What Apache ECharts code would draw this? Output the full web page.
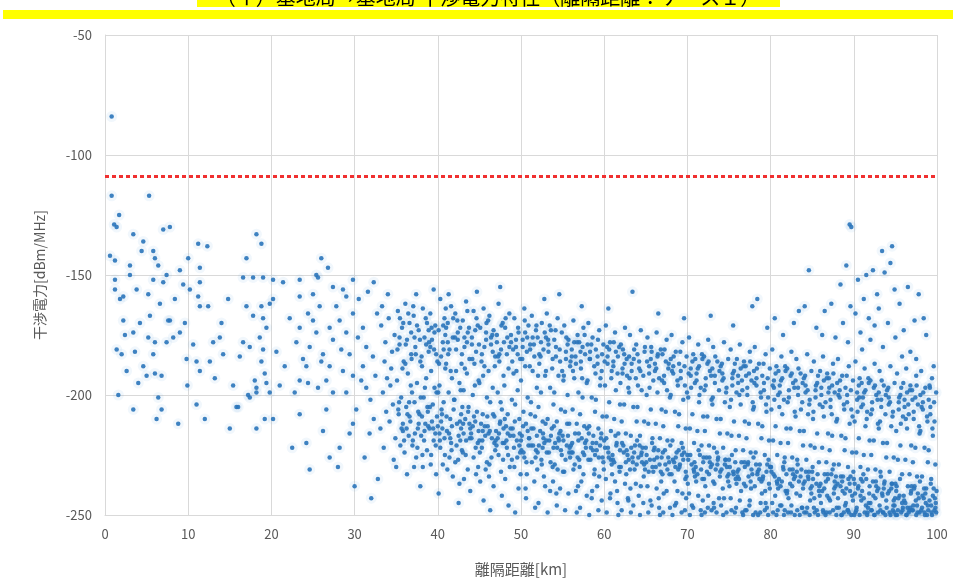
<!DOCTYPE html>
<html><head><meta charset="utf-8">
<script src="https://cdn.jsdelivr.net/npm/echarts@6/dist/echarts.min.js"></script>
<style>html,body{margin:0;padding:0;background:#fff}#c{width:953px;height:587px}</style>
</head><body><div id="c"></div>
<script>
const titleText = '（イ）基地局→基地局 干渉電力特性（離隔距離：ケース１）';
const xName = '離隔距離[km]';
const yName = '干渉電力[dBm/MHz]';
const xTicks = [0,10,20,30,40,50,60,70,80,90,100];
const yTicks = [-250,-200,-150,-100,-50];
const thresholdDbm = -109;

// sparse region, 0–33 km  [distance km, power dBm/MHz]
const nearPoints = [
[0.8,-84],[0.8,-117],[5.3,-117],[1.7,-125],[1.1,-129],[1.4,-130],[3.4,-133],[7.0,-131],[7.8,-130],[4.6,-136],[4.4,-140],[5.8,-140],[6.0,-143],[0.6,-142],[1.2,-144],[3.0,-146],[6.4,-146],[10.0,-143],[11.2,-137],[18.2,-133],[18.8,-137],[17.0,-143],[26.0,-143],[26.8,-147],[25.4,-150],[9.0,-148],[11.4,-147],[3.0,-150],[5.8,-152],[7.4,-150],[7.0,-153],[1.2,-152],[1.2,-156],[2.2,-159],[3.8,-156],[5.2,-158],[6.6,-162],[9.4,-154],[10.2,-156],[11.4,-153],[11.2,-159],[12.4,-163],[11.4,-163],
[14.8,-160],[16.6,-151],[17.8,-151],[19.0,-151],[20.2,-152],[21.4,-153],[23.4,-152],[25.6,-151],[27.4,-155],[28.6,-156],[29.8,-152],[32.3,-153],[17.0,-163],[17.8,-167],[18.8,-163],[19.8,-162],[20.2,-160],[19.0,-168],[19.4,-172],[18.6,-176],[19.0,-181],[18.8,-186],[19.2,-191],[19.4,-195],[18.2,-197],[18.2,-199],[19.8,-199],[19.2,-210],[18.2,-214],[20.2,-210],[17.4,-180],[16.6,-178],[16.2,-184],[15.4,-196],[16.0,-205],[17.2,-200],[13.8,-176],[13.0,-178],[14.2,-183],[12.6,-186],[11.4,-190],[11.0,-186],[10.6,-179],[9.8,-185],[9.6,-170],[9.0,-174],[8.2,-176],[7.6,-169],[7.4,-178],[6.0,-178],[5.8,-183],[5.2,-176],[4.6,-188],[5.0,-192],[6.0,-191],[6.8,-192],[6.4,-201],[6.8,-206],[6.2,-210],[3.4,-206],[8.8,-212],[11.0,-204],[4.2,-170],[3.4,-174],[2.4,-175],[1.4,-181],[2.0,-183],[3.6,-182],[2.2,-169],[1.8,-160],[5.4,-167],[7.8,-169],
[15.8,-205],[17.4,-201],[18.0,-194],[21.6,-188],[22.8,-199],[23.4,-194],[23.8,-185],[23.0,-178],[23.4,-172],[24.4,-166],[23.4,-159],[25.0,-158],[25.8,-163],[25.0,-169],[25.4,-174],[24.6,-180],[24.2,-188],[24.4,-195],[23.4,-208],[24.2,-220],[24.6,-231],[27.0,-226],[28.0,-230],[28.2,-222],[29.4,-216],[30.0,-238],[26.6,-206],[27.4,-199],[26.6,-194],[27.0,-188],[26.2,-183],[27.4,-177],[27.0,-172],[28.2,-169],[27.8,-163],[29.0,-159],[29.8,-166],[29.0,-174],[29.4,-183],[28.6,-190],[29.8,-192],[29.0,-199],[30.2,-206],[29.8,-212],[31.0,-172],[31.4,-180],[31.0,-188],[31.4,-197],[31.9,-202],[32.3,-210],[32.8,-235],[32.7,-166],[30.5,-160],[31.6,-157],[30.4,-176],[30.8,-194],[31.8,-216],[32.2,-184],[32.5,-192],[28.4,-181],[26.0,-186],[25.6,-197],[22.2,-168],[21.0,-196],[20.6,-182],[12.3,-138],[14.0,-170],[8.4,-160],[2.6,-190],[1.6,-200],[4.0,-195],[9.9,-196],[13.2,-193],[12.0,-210],[15.0,-214],[22.5,-222],[26.2,-215],[31.2,-226],[32.0,-243]
];

// dense region, 33–67 km
const midPoints = [
[33.2,-171],[33.6,-186],[33.4,-199],[33.8,-207],[33.1,-214],[33.7,-178],[33.5,-222],[33.9,-193],[33.3,-163],
[34.1,-168],[34.5,-182],[34.8,-175],[34.3,-196],[34.6,-204],[34.2,-211],[34.9,-218],[34.4,-189],[34.7,-227],[34.0,-158],
[35.2,-165],[35.7,-172],[35.4,-179],[35.9,-186],[35.1,-194],[35.6,-201],[35.3,-208],[35.8,-215],[35.5,-221],[35.0,-230],[35.4,-176],[35.8,-212],
[36.1,-162],[36.6,-170],[36.3,-177],[36.8,-183],[36.4,-191],[36.9,-199],[36.2,-205],[36.7,-211],[36.5,-217],[36.0,-224],[36.3,-233],[36.8,-174],[36.6,-209],[36.1,-187],
[37.4,-158],[37.1,-167],[37.7,-173],[37.3,-180],[37.9,-186],[37.5,-195],[37.2,-203],[37.8,-208],[37.6,-214],[37.0,-219],[37.4,-226],[37.9,-238],[37.2,-176],[37.7,-212],[37.5,-171],
[38.2,-164],[38.7,-170],[38.4,-176],[38.9,-182],[38.1,-188],[38.6,-193],[38.3,-201],[38.8,-207],[38.5,-212],[38.0,-217],[38.7,-223],[38.2,-230],[38.6,-179],[38.4,-215],[38.9,-173],[38.1,-209],
[39.5,-156],[39.1,-166],[39.7,-171],[39.3,-177],[39.8,-183],[39.2,-190],[39.6,-197],[39.4,-204],[39.9,-209],[39.0,-214],[39.5,-219],[39.2,-225],[39.8,-233],[39.6,-174],[39.3,-211],[39.1,-180],[39.7,-216],
[40.3,-160],[40.8,-168],[40.1,-173],[40.6,-178],[40.4,-184],[40.9,-189],[40.2,-196],[40.7,-203],[40.5,-208],[40.0,-213],[40.8,-218],[40.3,-222],[40.6,-229],[40.1,-241],[40.9,-175],[40.4,-211],[40.7,-181],[40.2,-216],
[41.6,-163],[41.2,-170],[41.8,-176],[41.4,-181],[41.0,-187],[41.7,-193],[41.3,-199],[41.9,-206],[41.5,-210],[41.1,-215],[41.6,-220],[41.4,-226],[41.8,-234],[41.2,-178],[41.7,-213],[41.0,-172],[41.5,-218],[41.3,-158],
[42.1,-166],[42.7,-172],[42.4,-177],[42.9,-183],[42.2,-190],[42.6,-195],[42.0,-202],[42.8,-208],[42.3,-212],[42.5,-217],[42.9,-223],[42.1,-228],[42.6,-237],[42.4,-174],[42.8,-214],[42.2,-181],[42.7,-219],[42.5,-245],
[43.4,-161],[43.0,-169],[43.6,-174],[43.2,-180],[43.8,-185],[43.5,-191],[43.1,-198],[43.7,-205],[43.3,-210],[43.9,-214],[43.4,-219],[43.0,-224],[43.6,-231],[43.2,-176],[43.8,-212],[43.5,-178],[43.1,-216],[43.9,-240],
[44.3,-165],[44.8,-171],[44.1,-176],[44.6,-182],[44.4,-187],[44.9,-194],[44.2,-200],[44.7,-207],[44.5,-211],[44.0,-216],[44.8,-220],[44.3,-226],[44.6,-233],[44.1,-179],[44.9,-215],[44.5,-173],[44.2,-213],[44.7,-157],
[45.5,-164],[45.1,-172],[45.8,-177],[45.3,-183],[45.6,-188],[45.0,-195],[45.9,-201],[45.4,-208],[45.2,-212],[45.7,-217],[45.3,-222],[45.9,-228],[45.1,-236],[45.6,-180],[45.4,-215],[45.8,-174],[45.0,-219],[45.5,-244],
[46.2,-167],[46.7,-173],[46.4,-179],[46.9,-184],[46.1,-190],[46.6,-197],[46.3,-203],[46.8,-209],[46.0,-213],[46.5,-218],[46.9,-223],[46.2,-229],[46.7,-238],[46.4,-176],[46.1,-216],[46.6,-182],[46.8,-220],[46.3,-248],
[47.3,-162],[47.8,-170],[47.1,-175],[47.6,-181],[47.4,-186],[47.9,-192],[47.2,-199],[47.7,-206],[47.5,-211],[47.0,-215],[47.8,-220],[47.3,-225],[47.6,-232],[47.1,-178],[47.9,-214],[47.4,-183],[47.2,-218],[47.7,-242],[47.5,-155],
[48.6,-166],[48.1,-172],[48.8,-178],[48.3,-183],[48.5,-189],[48.0,-196],[48.9,-202],[48.4,-208],[48.2,-213],[48.7,-217],[48.3,-222],[48.9,-227],[48.1,-235],[48.6,-180],[48.4,-216],[48.8,-175],[48.0,-220],[48.5,-246],
[49.2,-168],[49.7,-174],[49.4,-180],[49.9,-185],[49.1,-191],[49.6,-198],[49.3,-204],[49.8,-210],[49.0,-214],[49.5,-219],[49.9,-224],[49.2,-230],[49.7,-239],[49.4,-177],[49.1,-217],[49.6,-183],[49.8,-221],[49.3,-249],
[50.4,-164],[50.9,-171],[50.2,-177],[50.7,-182],[50.5,-188],[50.0,-194],[50.8,-201],[50.3,-207],[50.6,-212],[50.1,-217],[50.9,-221],[50.4,-226],[50.7,-233],[50.2,-180],[50.8,-215],[50.5,-174],[50.0,-219],[50.6,-243],[50.3,-224],
[51.3,-167],[51.8,-173],[51.1,-179],[51.6,-184],[51.4,-190],[51.9,-197],[51.2,-203],[51.7,-209],[51.5,-214],[51.0,-218],[51.8,-223],[51.3,-228],[51.6,-236],[51.1,-181],[51.9,-217],[51.4,-176],[51.2,-221],[51.7,-247],
[52.5,-170],[52.0,-176],[52.7,-181],[52.2,-187],[52.9,-192],[52.4,-199],[52.1,-205],[52.6,-211],[52.3,-215],[52.8,-220],[52.0,-224],[52.5,-229],[52.9,-238],[52.2,-183],[52.7,-218],[52.4,-178],[52.6,-222],[52.1,-245],[52.8,-160],
[53.1,-166],[53.6,-173],[53.3,-179],[53.8,-185],[53.0,-190],[53.5,-197],[53.9,-204],[53.2,-210],[53.7,-214],[53.4,-219],[53.1,-224],[53.8,-230],[53.5,-240],[53.3,-182],[53.6,-217],[53.0,-176],[53.9,-222],[53.2,-249],
[54.4,-168],[54.9,-174],[54.2,-180],[54.7,-186],[54.5,-192],[54.0,-199],[54.8,-206],[54.3,-211],[54.6,-216],[54.1,-220],[54.9,-225],[54.4,-231],[54.7,-239],[54.2,-184],[54.5,-218],[54.0,-177],[54.8,-223],[54.3,-246],[54.6,-158],
[55.2,-171],[55.7,-177],[55.4,-182],[55.9,-188],[55.1,-194],[55.6,-200],[55.3,-207],[55.8,-212],[55.0,-217],[55.5,-221],[55.9,-226],[55.2,-232],[55.7,-241],[55.4,-185],[55.1,-219],[55.6,-179],[55.8,-224],[55.3,-248],
[56.3,-169],[56.8,-175],[56.1,-181],[56.6,-187],[56.4,-193],[56.9,-199],[56.2,-206],[56.7,-212],[56.5,-216],[56.0,-221],[56.8,-226],[56.3,-231],[56.6,-240],[56.1,-184],[56.9,-219],[56.4,-178],[56.2,-224],[56.7,-249],
[57.5,-172],[57.0,-178],[57.7,-183],[57.2,-189],[57.9,-195],[57.4,-201],[57.1,-208],[57.6,-213],[57.3,-218],[57.8,-222],[57.0,-227],[57.5,-233],[57.9,-242],[57.2,-186],[57.7,-220],[57.4,-180],[57.6,-225],[57.1,-247],[57.3,-163],
[58.1,-170],[58.6,-176],[58.3,-182],[58.8,-188],[58.0,-194],[58.5,-201],[58.9,-207],[58.2,-213],[58.7,-217],[58.4,-222],[58.1,-227],[58.8,-233],[58.5,-243],[58.3,-185],[58.6,-220],[58.0,-179],[58.9,-225],[58.2,-250],
[59.4,-173],[59.9,-179],[59.2,-184],[59.7,-190],[59.5,-196],[59.0,-202],[59.8,-209],[59.3,-214],[59.6,-218],[59.1,-223],[59.9,-228],[59.4,-234],[59.7,-244],[59.2,-187],[59.5,-221],[59.0,-181],[59.8,-226],[59.3,-248],
[60.2,-171],[60.7,-178],[60.4,-184],[60.9,-190],[60.1,-196],[60.6,-203],[60.3,-209],[60.8,-215],[60.0,-219],[60.5,-224],[60.9,-229],[60.2,-235],[60.7,-243],[60.4,-187],[60.1,-222],[60.6,-181],[60.8,-227],[60.3,-249],[60.5,-164],
[61.3,-174],[61.8,-180],[61.1,-186],[61.6,-191],[61.4,-198],[61.9,-204],[61.2,-210],[61.7,-216],[61.5,-220],[61.0,-225],[61.8,-230],[61.3,-236],[61.6,-245],[61.1,-188],[61.9,-223],[61.4,-182],[61.2,-228],[61.7,-250],
[62.5,-172],[62.0,-179],[62.7,-185],[62.2,-191],[62.9,-197],[62.4,-204],[62.1,-211],[62.6,-216],[62.3,-221],[62.8,-225],[62.0,-230],[62.5,-237],[62.9,-244],[62.2,-189],[62.7,-223],[62.4,-183],[62.6,-228],[62.1,-248],
[63.1,-175],[63.6,-181],[63.3,-187],[63.8,-193],[63.0,-199],[63.5,-205],[63.9,-211],[63.2,-217],[63.7,-221],[63.4,-226],[63.1,-231],[63.8,-237],[63.5,-246],[63.3,-190],[63.6,-224],[63.0,-184],[63.9,-229],[63.2,-249],[63.4,-157],
[64.4,-173],[64.9,-180],[64.2,-186],[64.7,-192],[64.5,-198],[64.0,-205],[64.8,-211],[64.3,-217],[64.6,-222],[64.1,-226],[64.9,-231],[64.4,-238],[64.7,-245],[64.2,-189],[64.5,-224],[64.0,-183],[64.8,-229],[64.3,-250],
[65.2,-176],[65.7,-182],[65.4,-188],[65.9,-194],[65.1,-200],[65.6,-206],[65.3,-212],[65.8,-218],[65.0,-222],[65.5,-227],[65.9,-232],[65.2,-238],[65.7,-246],[65.4,-191],[65.1,-225],[65.6,-185],[65.8,-230],[65.3,-249],
[66.3,-174],[66.8,-181],[66.1,-187],[66.6,-193],[66.4,-199],[66.9,-206],[66.2,-212],[66.7,-218],[66.5,-223],[66.0,-227],[66.8,-232],[66.3,-239],[66.6,-247],[66.1,-190],[66.9,-226],[66.4,-184],[66.2,-230],[66.7,-250],[66.5,-166]
];

// dense region, 67–100 km
const farPoints = [
[67.5,-177],[67.0,-183],[67.7,-189],[67.2,-195],[67.9,-201],[67.4,-207],[67.1,-213],[67.6,-219],[67.3,-223],[67.8,-228],[67.0,-233],[67.5,-240],[67.9,-247],[67.2,-192],[67.7,-226],[67.4,-186],[67.6,-231],[67.1,-249],
[68.1,-175],[68.6,-182],[68.3,-188],[68.8,-194],[68.0,-200],[68.5,-207],[68.9,-213],[68.2,-219],[68.7,-224],[68.4,-228],[68.1,-233],[68.8,-240],[68.5,-246],[68.3,-191],[68.6,-226],[68.0,-185],[68.9,-231],[68.2,-250],
[69.4,-178],[69.9,-184],[69.2,-190],[69.7,-196],[69.5,-202],[69.0,-208],[69.8,-214],[69.3,-220],[69.6,-224],[69.1,-229],[69.9,-234],[69.4,-241],[69.7,-248],[69.2,-193],[69.5,-227],[69.0,-187],[69.8,-232],[69.3,-249],[69.6,-168],
[70.2,-176],[70.7,-183],[70.4,-189],[70.9,-195],[70.1,-201],[70.6,-208],[70.3,-214],[70.8,-220],[70.0,-225],[70.5,-229],[70.9,-234],[70.2,-241],[70.7,-247],[70.4,-192],[70.1,-227],[70.6,-186],[70.8,-232],[70.3,-250],
[71.3,-179],[71.8,-185],[71.1,-191],[71.6,-197],[71.4,-203],[71.9,-209],[71.2,-215],[71.7,-221],[71.5,-225],[71.0,-230],[71.8,-235],[71.3,-242],[71.6,-248],[71.1,-194],[71.9,-228],[71.4,-188],[71.2,-233],[71.7,-250],
[72.5,-177],[72.0,-184],[72.7,-190],[72.2,-196],[72.9,-202],[72.4,-209],[72.1,-215],[72.6,-221],[72.3,-226],[72.8,-230],[72.0,-235],[72.5,-242],[72.9,-248],[72.2,-193],[72.7,-228],[72.4,-187],[72.6,-233],[72.1,-249],[72.8,-167],
[73.1,-180],[73.6,-186],[73.3,-192],[73.8,-198],[73.0,-204],[73.5,-210],[73.9,-216],[73.2,-222],[73.7,-226],[73.4,-231],[73.1,-236],[73.8,-243],[73.5,-249],[73.3,-195],[73.6,-229],[73.0,-189],[73.9,-234],[73.2,-247],
[74.4,-178],[74.9,-185],[74.2,-191],[74.7,-197],[74.5,-203],[74.0,-210],[74.8,-216],[74.3,-222],[74.6,-227],[74.1,-231],[74.9,-236],[74.4,-243],[74.7,-249],[74.2,-194],[74.5,-229],[74.0,-188],[74.8,-234],[74.3,-250],
[75.2,-181],[75.7,-187],[75.4,-193],[75.9,-199],[75.1,-205],[75.6,-211],[75.3,-217],[75.8,-223],[75.0,-227],[75.5,-232],[75.9,-237],[75.2,-243],[75.7,-249],[75.4,-196],[75.1,-230],[75.6,-190],[75.8,-235],[75.3,-248],[75.5,-171],
[76.3,-179],[76.8,-186],[76.1,-192],[76.6,-198],[76.4,-204],[76.9,-211],[76.2,-217],[76.7,-223],[76.5,-228],[76.0,-232],[76.8,-237],[76.3,-244],[76.6,-249],[76.1,-195],[76.9,-230],[76.4,-189],[76.2,-235],[76.7,-250],
[77.5,-182],[77.0,-188],[77.7,-194],[77.2,-200],[77.9,-206],[77.4,-212],[77.1,-218],[77.6,-224],[77.3,-228],[77.8,-233],[77.0,-238],[77.5,-244],[77.9,-250],[77.2,-197],[77.7,-231],[77.4,-191],[77.6,-236],[77.1,-248],[77.8,-163],
[78.1,-180],[78.6,-187],[78.3,-193],[78.8,-199],[78.0,-205],[78.5,-212],[78.9,-218],[78.2,-224],[78.7,-229],[78.4,-233],[78.1,-238],[78.8,-245],[78.5,-250],[78.3,-196],[78.6,-231],[78.0,-190],[78.9,-236],[78.2,-249],[78.4,-160],
[79.4,-183],[79.9,-189],[79.2,-195],[79.7,-201],[79.5,-207],[79.0,-213],[79.8,-219],[79.3,-225],[79.6,-229],[79.1,-234],[79.9,-239],[79.4,-245],[79.7,-250],[79.2,-198],[79.5,-232],[79.0,-192],[79.8,-237],[79.3,-248],[79.6,-172],
[80.2,-181],[80.7,-188],[80.4,-194],[80.9,-200],[80.1,-206],[80.6,-213],[80.3,-219],[80.8,-225],[80.0,-230],[80.5,-234],[80.9,-239],[80.2,-245],[80.7,-250],[80.4,-197],[80.1,-232],[80.6,-191],[80.8,-237],[80.3,-249],[80.5,-168],
[81.3,-184],[81.8,-190],[81.1,-196],[81.6,-202],[81.4,-208],[81.9,-214],[81.2,-220],[81.7,-226],[81.5,-230],[81.0,-235],[81.8,-240],[81.3,-246],[81.6,-250],[81.1,-199],[81.9,-233],[81.4,-193],[81.2,-238],[81.7,-248],[81.5,-175],
[82.5,-182],[82.0,-189],[82.7,-195],[82.2,-201],[82.9,-207],[82.4,-214],[82.1,-220],[82.6,-226],[82.3,-231],[82.8,-235],[82.0,-240],[82.5,-246],[82.9,-250],[82.2,-198],[82.7,-233],[82.4,-192],[82.6,-238],[82.1,-249],[82.8,-170],
[83.1,-185],[83.6,-191],[83.3,-197],[83.8,-203],[83.0,-209],[83.5,-215],[83.9,-221],[83.2,-227],[83.7,-231],[83.4,-236],[83.1,-241],[83.8,-247],[83.5,-250],[83.3,-200],[83.6,-234],[83.0,-194],[83.9,-239],[83.2,-248],[83.4,-165],
[84.4,-183],[84.9,-190],[84.2,-196],[84.7,-202],[84.5,-208],[84.0,-215],[84.8,-221],[84.3,-227],[84.6,-232],[84.1,-236],[84.9,-241],[84.4,-247],[84.7,-250],[84.2,-199],[84.5,-234],[84.0,-193],[84.8,-239],[84.3,-249],[84.6,-148],[84.1,-163],
[85.2,-186],[85.7,-192],[85.4,-198],[85.9,-204],[85.1,-210],[85.6,-216],[85.3,-222],[85.8,-228],[85.0,-232],[85.5,-237],[85.9,-242],[85.2,-247],[85.7,-250],[85.4,-201],[85.1,-235],[85.6,-195],[85.8,-240],[85.3,-249],[85.5,-172],
[86.3,-184],[86.8,-191],[86.1,-197],[86.6,-203],[86.4,-209],[86.9,-216],[86.2,-222],[86.7,-228],[86.5,-233],[86.0,-237],[86.8,-242],[86.3,-248],[86.6,-250],[86.1,-200],[86.9,-235],[86.4,-194],[86.2,-240],[86.7,-249],[86.5,-165],[86.2,-175],
[87.5,-187],[87.0,-193],[87.7,-199],[87.2,-205],[87.9,-211],[87.4,-217],[87.1,-223],[87.6,-229],[87.3,-233],[87.8,-238],[87.0,-243],[87.5,-248],[87.9,-250],[87.2,-202],[87.7,-236],[87.4,-196],[87.6,-241],[87.1,-249],[87.3,-162],[87.8,-176],
[88.1,-185],[88.6,-192],[88.3,-198],[88.8,-204],[88.0,-210],[88.5,-217],[88.9,-223],[88.2,-229],[88.7,-234],[88.4,-238],[88.1,-243],[88.8,-249],[88.5,-250],[88.3,-201],[88.6,-236],[88.0,-195],[88.9,-241],[88.2,-247],[88.4,-154],[88.7,-170],
[89.4,-188],[89.9,-194],[89.2,-200],[89.7,-206],[89.5,-212],[89.0,-218],[89.8,-224],[89.3,-230],[89.6,-234],[89.1,-239],[89.9,-244],[89.4,-249],[89.7,-250],[89.2,-203],[89.5,-237],[89.0,-197],[89.8,-242],[89.3,-248],[89.5,-129],[89.7,-130],[89.1,-146],[89.6,-163],[89.3,-178],
[90.2,-186],[90.7,-193],[90.4,-199],[90.9,-205],[90.1,-211],[90.6,-218],[90.3,-224],[90.8,-230],[90.0,-235],[90.5,-239],[90.9,-244],[90.2,-249],[90.7,-250],[90.4,-202],[90.1,-237],[90.6,-196],[90.8,-242],[90.3,-248],[90.5,-152],[90.2,-166],[90.8,-174],
[91.3,-189],[91.8,-195],[91.1,-201],[91.6,-207],[91.4,-213],[91.9,-219],[91.2,-225],[91.7,-231],[91.5,-235],[91.0,-240],[91.8,-245],[91.3,-249],[91.6,-250],[91.1,-204],[91.9,-238],[91.4,-198],[91.2,-243],[91.7,-247],[91.5,-150],[91.2,-160],[91.8,-168],[91.0,-181],
[92.5,-187],[92.0,-194],[92.7,-200],[92.2,-206],[92.9,-212],[92.4,-219],[92.1,-225],[92.6,-231],[92.3,-236],[92.8,-240],[92.0,-245],[92.5,-250],[92.9,-249],[92.2,-203],[92.7,-238],[92.4,-197],[92.6,-243],[92.1,-248],[92.3,-148],[92.8,-158],[92.5,-171],[92.0,-177],
[93.1,-190],[93.6,-196],[93.3,-202],[93.8,-208],[93.0,-214],[93.5,-220],[93.9,-226],[93.2,-232],[93.7,-236],[93.4,-241],[93.1,-246],[93.8,-250],[93.5,-249],[93.3,-205],[93.6,-239],[93.0,-199],[93.9,-244],[93.2,-248],[93.4,-140],[93.7,-149],[93.0,-164],[93.5,-180],
[94.4,-188],[94.9,-195],[94.2,-201],[94.7,-207],[94.5,-213],[94.0,-220],[94.8,-226],[94.3,-232],[94.6,-237],[94.1,-241],[94.9,-246],[94.4,-250],[94.7,-248],[94.2,-204],[94.5,-239],[94.0,-198],[94.8,-244],[94.3,-249],[94.6,-138],[94.4,-145],[94.9,-156],[94.1,-170],
[95.2,-191],[95.7,-197],[95.4,-203],[95.9,-209],[95.1,-215],[95.6,-221],[95.3,-227],[95.8,-233],[95.0,-237],[95.5,-242],[95.9,-247],[95.2,-250],[95.7,-249],[95.4,-206],[95.1,-240],[95.6,-200],[95.8,-245],[95.3,-248],[95.5,-162],[95.0,-176],[95.8,-184],
[96.3,-189],[96.8,-196],[96.1,-202],[96.6,-208],[96.4,-214],[96.9,-221],[96.2,-227],[96.7,-233],[96.5,-238],[96.0,-242],[96.8,-247],[96.3,-250],[96.6,-249],[96.1,-205],[96.9,-240],[96.4,-199],[96.2,-245],[96.7,-248],[96.5,-155],[96.0,-173],[96.8,-182],
[97.5,-192],[97.0,-198],[97.7,-204],[97.2,-210],[97.9,-216],[97.4,-222],[97.1,-228],[97.6,-234],[97.3,-238],[97.8,-243],[97.0,-248],[97.5,-250],[97.9,-249],[97.2,-207],[97.7,-241],[97.4,-201],[97.6,-246],[97.1,-248],[97.3,-169],[97.8,-158],[97.5,-185],
[98.1,-190],[98.6,-197],[98.3,-203],[98.8,-209],[98.0,-215],[98.5,-222],[98.9,-228],[98.2,-234],[98.7,-239],[98.4,-243],[98.1,-248],[98.8,-250],[98.5,-249],[98.3,-206],[98.6,-241],[98.0,-200],[98.9,-246],[98.2,-247],[98.4,-168],[98.7,-175],
[99.4,-193],[99.9,-199],[99.2,-205],[99.7,-211],[99.5,-217],[99.0,-223],[99.8,-229],[99.3,-235],[99.6,-239],[99.1,-244],[99.9,-249],[99.4,-250],[99.7,-248],[99.2,-208],[99.5,-242],[99.0,-202],[99.8,-247],[99.3,-246],[99.6,-188],[99.1,-196]
];

const bandPoints = [
[35.15,-181],[35.85,-170],[35.45,-168],[35.65,-214],[35.25,-206],[35.95,-219],[35.35,-203],[35.75,-189],
[36.45,-166],[36.15,-179],[36.85,-185],[36.55,-203],[36.25,-214],[36.95,-221],[36.35,-208],[36.75,-196],
[37.85,-177],[37.35,-183],[37.05,-163],[37.65,-207],[37.25,-216],[37.55,-222],[37.95,-201],[37.15,-230],
[38.55,-168],[38.05,-184],[38.95,-178],[38.35,-219],[38.75,-205],[38.15,-225],[38.45,-197],[38.85,-213],
[39.25,-172],[39.95,-186],[39.55,-181],[39.05,-205],[39.75,-221],[39.45,-214],[39.15,-229],[39.85,-199],
[40.65,-171],[40.15,-187],[40.95,-164],[40.45,-206],[40.25,-219],[40.85,-225],[40.55,-214],[40.05,-199],
[41.25,-183],[41.85,-168],[41.55,-190],[41.05,-209],[41.65,-223],[41.35,-216],[41.95,-202],[41.15,-231],
[42.35,-169],[42.85,-187],[42.05,-176],[42.65,-211],[42.25,-221],[42.95,-205],[42.45,-227],[42.75,-198],
[43.75,-172],[43.25,-189],[43.55,-165],[43.05,-212],[43.85,-218],[43.35,-225],[43.65,-207],[43.15,-235],
[44.15,-185],[44.65,-168],[44.95,-179],[44.35,-209],[44.55,-222],[44.05,-218],[44.85,-230],[44.45,-196],
[45.85,-170],[45.25,-186],[45.45,-192],[45.65,-213],[45.05,-224],[45.95,-209],[45.35,-219],[45.75,-231],
[46.55,-175],[46.05,-169],[46.85,-188],[46.25,-215],[46.65,-208],[46.45,-226],[46.95,-219],[46.15,-234],
[47.25,-184],[47.65,-171],[47.95,-178],[47.45,-212],[47.05,-221],[47.85,-227],[47.35,-216],[47.55,-203],
[48.35,-176],[48.95,-186],[48.15,-168],[48.75,-214],[48.45,-225],[48.05,-210],[48.65,-230],[48.25,-219],
[49.65,-172],[49.05,-181],[49.45,-190],[49.85,-216],[49.25,-211],[49.55,-226],[49.15,-222],[49.95,-233],
[50.15,-185],[50.75,-176],[50.45,-169],[50.95,-218],[50.25,-213],[50.65,-228],[50.05,-223],[50.55,-239],
[51.55,-179],[51.05,-188],[51.85,-171],[51.25,-214],[51.75,-226],[51.45,-221],[51.95,-231],[51.15,-208],
[52.85,-174],[52.35,-184],[52.05,-192],[52.65,-216],[52.45,-227],[52.95,-212],[52.15,-221],[52.75,-234],
[53.25,-177],[53.75,-189],[53.45,-171],[53.05,-219],[53.95,-213],[53.55,-228],[53.35,-224],[53.85,-236],
[54.65,-181],[54.15,-173],[54.95,-190],[54.35,-222],[54.75,-215],[54.05,-229],[54.55,-219],[54.25,-241],
[55.45,-176],[55.95,-186],[55.15,-192],[55.65,-217],[55.35,-227],[55.85,-222],[55.05,-232],[55.55,-212],
[56.75,-178],[56.25,-190],[56.55,-184],[56.05,-224],[56.95,-216],[56.45,-229],[56.15,-220],[56.85,-238],
[57.15,-182],[57.65,-175],[57.35,-193],[57.85,-219],[57.05,-230],[57.45,-224],[57.95,-214],[57.25,-236],
[58.45,-179],[58.95,-191],[58.25,-185],[58.65,-223],[58.15,-216],[58.85,-231],[58.35,-227],[58.55,-240],
[59.75,-183],[59.25,-177],[59.55,-193],[59.05,-220],[59.95,-231],[59.35,-226],[59.65,-216],[59.15,-238],
[60.35,-180],[60.85,-193],[60.05,-186],[60.55,-226],[60.25,-218],[60.95,-233],[60.45,-222],[60.75,-241],
[61.65,-184],[61.15,-178],[61.95,-195],[61.45,-221],[61.85,-232],[61.05,-227],[61.35,-217],[61.55,-240],
[62.25,-181],[62.75,-192],[62.45,-187],[62.95,-227],[62.15,-220],[62.65,-233],[62.35,-224],[62.85,-243],
[63.55,-185],[63.05,-193],[63.85,-179],[63.25,-222],[63.65,-231],[63.45,-228],[63.95,-219],[63.15,-239],
[64.85,-182],[64.35,-190],[64.05,-196],[64.55,-228],[64.25,-221],[64.75,-234],[64.45,-225],[64.15,-242],
[65.15,-186],[65.65,-180],[65.45,-197],[65.95,-223],[65.35,-232],[65.05,-228],[65.75,-220],[65.55,-244],
[66.45,-183],[66.95,-194],[66.25,-189],[66.65,-229],[66.05,-222],[66.85,-236],[66.35,-226],[66.55,-243],
[67.75,-187],[67.25,-181],[67.55,-198],[67.05,-224],[67.85,-233],[67.35,-229],[67.95,-221],[67.15,-241],
[68.35,-184],[68.85,-196],[68.15,-190],[68.55,-230],[68.95,-223],[68.45,-236],[68.25,-227],[68.65,-245],
[69.65,-188],[69.15,-182],[69.95,-199],[69.35,-225],[69.75,-235],[69.05,-230],[69.45,-222],[69.85,-243],
[70.95,-185],[70.45,-197],[70.15,-191],[70.75,-231],[70.35,-225],[70.05,-237],[70.85,-228],[70.55,-246],
[71.25,-189],[71.75,-183],[71.45,-200],[71.95,-226],[71.05,-236],[71.65,-231],[71.35,-223],[71.85,-244],
[72.55,-186],[72.05,-198],[72.85,-192],[72.35,-232],[72.65,-226],[72.15,-238],[72.95,-229],[72.45,-247],
[73.85,-190],[73.35,-184],[73.05,-201],[73.65,-227],[73.25,-237],[73.95,-232],[73.55,-224],[73.15,-245],
[74.15,-187],[74.65,-199],[74.35,-193],[74.95,-233],[74.55,-227],[74.25,-239],[74.75,-230],[74.05,-246],
[75.45,-191],[75.95,-185],[75.25,-202],[75.75,-228],[75.05,-238],[75.55,-233],[75.35,-225],[75.85,-247],
[76.75,-188],[76.25,-200],[76.55,-194],[76.05,-234],[76.85,-228],[76.45,-240],[76.15,-231],[76.95,-248],
[77.05,-192],[77.55,-186],[77.85,-203],[77.25,-229],[77.65,-239],[77.35,-234],[77.95,-226],[77.45,-246],
[78.35,-189],[78.85,-201],[78.05,-195],[78.65,-235],[78.25,-229],[78.95,-241],[78.45,-232],[78.75,-249],
[79.65,-193],[79.15,-187],[79.45,-204],[79.95,-230],[79.35,-240],[79.05,-235],[79.75,-227],[79.55,-247],
[80.95,-190],[80.45,-202],[80.25,-196],[80.75,-236],[80.05,-230],[80.55,-242],[80.35,-233],[80.85,-248],
[81.25,-194],[81.75,-188],[81.05,-205],[81.55,-231],[81.95,-241],[81.35,-236],[81.65,-228],[81.15,-246],
[82.55,-191],[82.05,-203],[82.85,-197],[82.35,-237],[82.65,-231],[82.15,-243],[82.95,-234],[82.45,-249],
[83.85,-195],[83.35,-189],[83.65,-206],[83.15,-232],[83.55,-242],[83.95,-237],[83.25,-229],[83.75,-247],
[84.15,-192],[84.65,-204],[84.45,-198],[84.95,-238],[84.25,-232],[84.75,-244],[84.55,-235],[84.05,-249],
[85.45,-196],[85.95,-190],[85.15,-207],[85.65,-233],[85.25,-243],[85.85,-238],[85.05,-230],[85.55,-248],
[86.75,-193],[86.25,-205],[86.95,-199],[86.45,-239],[86.85,-233],[86.05,-245],[86.65,-236],[86.35,-249],
[87.05,-197],[87.55,-191],[87.35,-208],[87.85,-234],[87.15,-244],[87.65,-239],[87.45,-231],[87.95,-247],
[88.35,-194],[88.85,-206],[88.15,-200],[88.65,-240],[88.45,-234],[88.95,-246],[88.05,-237],[88.55,-250],
[89.65,-198],[89.15,-192],[89.85,-209],[89.35,-235],[89.05,-245],[89.55,-240],[89.95,-232],[89.25,-248],
[90.95,-195],[90.45,-207],[90.65,-201],[90.15,-241],[90.85,-235],[90.35,-247],[90.55,-238],[90.05,-250],
[91.25,-199],[91.75,-193],[91.55,-210],[91.05,-236],[91.45,-246],[91.85,-241],[91.15,-233],[91.65,-249],
[92.55,-196],[92.05,-208],[92.85,-202],[92.35,-242],[92.65,-236],[92.15,-248],[92.95,-239],[92.45,-250],
[93.85,-200],[93.35,-194],[93.15,-211],[93.65,-237],[93.95,-247],[93.45,-242],[93.25,-234],[93.55,-249],
[94.15,-197],[94.65,-209],[94.35,-203],[94.95,-243],[94.55,-237],[94.85,-249],[94.25,-240],[94.75,-246],
[95.45,-201],[95.95,-195],[95.65,-212],[95.15,-238],[95.85,-248],[95.35,-243],[95.55,-235],[95.05,-250],
[96.75,-198],[96.25,-210],[96.55,-204],[96.05,-244],[96.95,-238],[96.35,-250],[96.85,-241],[96.45,-247],
[97.05,-202],[97.55,-196],[97.85,-213],[97.25,-239],[97.65,-249],[97.45,-244],[97.95,-236],[97.15,-246],
[98.35,-199],[98.85,-211],[98.15,-205],[98.65,-245],[98.45,-239],[98.95,-248],[98.25,-242],[98.55,-250],
[99.65,-203],[99.15,-197],[99.45,-214],[99.95,-240],[99.35,-249],[99.85,-245],[99.25,-237],[99.75,-243]
];

const allPoints = nearPoints.concat(midPoints, farPoints, bandPoints);
const FONT = '"Noto Sans CJK JP","Noto Sans",sans-serif';

const chart = echarts.init(document.getElementById('c'), null, {renderer:'canvas'});
chart.setOption({
  animation: false,
  backgroundColor: '#ffffff',
  textStyle: {fontFamily: FONT},
  graphic: [
    {type:'rect', shape:{x:3, y:10, width:950, height:9}, style:{fill:'#ffff00'}, z:10},
    {type:'rect', shape:{x:197, y:-20, width:583, height:27}, style:{fill:'#ffff00'}, z:10},
    {type:'text', x:488, y:7, style:{text:titleText, fill:'#000', font:'20px ' + FONT, textAlign:'center', textVerticalAlign:'bottom'}, z:11}
  ],
  grid: {left:105, right:16, top:35, bottom:72, containLabel:false},
  xAxis: {
    type:'value', min:xTicks[0], max:xTicks[xTicks.length-1], interval:10,
    name:xName, nameLocation:'middle', nameGap:47,
    nameTextStyle:{color:'#595959', fontSize:15, fontFamily:FONT},
    axisLine:{show:true, lineStyle:{color:'#d9d9d9'}},
    axisTick:{show:false},
    axisLabel:{color:'#595959', fontSize:13, margin:13, fontFamily:FONT},
    splitLine:{show:true, lineStyle:{color:'#d9d9d9', width:1}}
  },
  yAxis: {
    type:'value', min:yTicks[0], max:yTicks[yTicks.length-1], interval:50,
    name:yName, nameLocation:'middle', nameGap:58, nameRotate:90,
    nameTextStyle:{color:'#595959', fontSize:14, fontFamily:FONT},
    axisLine:{show:true, lineStyle:{color:'#d9d9d9'}},
    axisTick:{show:false},
    axisLabel:{color:'#595959', fontSize:13, margin:13, fontFamily:FONT},
    splitLine:{show:true, lineStyle:{color:'#d9d9d9', width:1}}
  },
  series: [
    {
      type:'scatter', data: allPoints, symbol:'circle', symbolSize:11, silent:true, z:1,
      itemStyle:{color:'rgba(91,155,213,0.10)'}
    },
    {
      type:'scatter', data: allPoints, symbol:'circle', symbolSize:4.5, z:2,
      itemStyle:{color:'#2a74ba', opacity:0.9},
      markLine:{
        silent:true, symbol:'none', label:{show:false},
        lineStyle:{color:'#f03030', type:[4,3], width:3},
        data:[{yAxis: thresholdDbm}]
      }
    }
  ]
});
</script></body></html>
